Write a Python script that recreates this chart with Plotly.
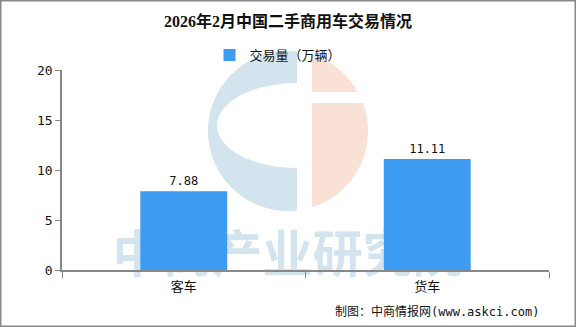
import numpy as np
import plotly.graph_objects as go

categories = ["客车", "货车"]
values = [7.88, 11.11]
value_labels = ["7.88", "11.11"]
series_name = "交易量（万辆）"
title_text = "2026年2月中国二手商用车交易情况"
source_text = "制图：中商情报网(www.askci.com)"
watermark_text = "中商产业研究院"

W, H = 576, 327
L, R, T, B = 62, 27, 70, 57
PW, PH = W - L - R, H - T - B


def px(x):
    return (x - L) / PW


def py(y):
    return (H - B - y) / PH


def path(points):
    s = "M " + " L ".join(f"{px(x):.5f},{py(y):.5f}" for x, y in points) + " Z"
    return s


# logo geometry (pixel space)
cx, cy, r = 288, 131, 80
xg1, xg2 = 297, 312
t0 = -np.degrees(np.arccos((xg1 - cx) / r))
th = np.radians(np.linspace(t0, -360 - t0, 80))
outer = [(cx + r * np.cos(a), cy + r * np.sin(a)) for a in th]
ecx, ecy, erx, ery = 297, 125.5, 80, 42.5
th2 = np.radians(np.linspace(90, 270, 60))
inner = [(ecx + erx * np.cos(a), ecy + ery * np.sin(a)) for a in th2]
blue_pts = outer + inner

ya, yb = 92, 103
ta = np.degrees(np.arctan2(ya - cy, np.sqrt(r**2 - (ya - cy) ** 2)))
ttop = np.degrees(np.arctan2(-np.sqrt(r**2 - (xg2 - cx) ** 2), xg2 - cx))
th3 = np.radians(np.linspace(ttop, ta, 40))
up = [(cx + r * np.cos(a), cy + r * np.sin(a)) for a in th3] + [(xg2, ya)]
tb = np.degrees(np.arctan2(yb - cy, np.sqrt(r**2 - (yb - cy) ** 2)))
tbot = np.degrees(np.arctan2(np.sqrt(r**2 - (xg2 - cx) ** 2), xg2 - cx))
th4 = np.radians(np.linspace(tb, tbot, 50))
low = [(xg2, yb)] + [(cx + r * np.cos(a), cy + r * np.sin(a)) for a in th4]

wm_blue = "rgb(211,228,238)"
wm_salmon = "rgb(250,225,214)"

fig = go.Figure()
fig.add_trace(go.Bar(
    x=categories, y=values, name=series_name,
    marker=dict(color="#3d9cf1", line=dict(width=0)),
    text=value_labels, textposition="outside", cliponaxis=False,
    textfont=dict(family="DejaVu Sans Mono, Noto Sans CJK SC", size=12, color="#111"),
    width=0.357,
))

shapes = [
    dict(type="path", path=path(blue_pts), xref="paper", yref="paper",
         fillcolor=wm_blue, line=dict(width=0), layer="below"),
    dict(type="path", path=path(up), xref="paper", yref="paper",
         fillcolor=wm_salmon, line=dict(width=0), layer="below"),
    dict(type="path", path=path(low), xref="paper", yref="paper",
         fillcolor=wm_salmon, line=dict(width=0), layer="below"),
    dict(type="rect", xref="paper", yref="paper",
         x0=px(114), x1=px(461), y0=py(284), y1=py(231),
         line=dict(width=0), fillcolor="rgba(0,0,0,0)", layer="below",
         label=dict(text=watermark_text, textposition="middle center",
                    font=dict(family="Noto Sans CJK SC", size=50, color=wm_blue, weight="bold"))),
    dict(type="rect", xref="paper", yref="paper",
         x0=px(0.75), x1=px(575.25), y0=py(326.25), y1=py(0.75),
         line=dict(width=1.5, color="#8a8a8a"), fillcolor="rgba(0,0,0,0)", layer="above"),
]

fig.update_layout(
    width=W, height=H,
    margin=dict(l=L, r=R, t=T, b=B),
    paper_bgcolor="white", plot_bgcolor="rgba(0,0,0,0)",
    title=dict(text="<b>" + title_text + "</b>", x=0.5, xanchor="center", y=1 - 21 / H, yanchor="middle",
               font=dict(family="Liberation Serif, Noto Sans CJK SC", size=16, color="#111")),
    showlegend=True,
    legend=dict(orientation="h", x=px(278), xanchor="center", y=py(55), yanchor="middle",
                font=dict(family="Noto Sans CJK SC", size=13, color="#111"),
                itemwidth=30, bgcolor="rgba(0,0,0,0)"),
    bargap=0.643,
    shapes=shapes,
    annotations=[dict(text=source_text, xref="paper", yref="paper", x=px(541), y=py(311),
                      xanchor="right", yanchor="middle", showarrow=False,
                      font=dict(family="DejaVu Sans Mono, Noto Sans CJK SC", size=12, color="#111"))],
)
fig.update_xaxes(showline=True, linecolor="#888", linewidth=1.5, ticks="outside", tickson="boundaries",
                 ticklen=6, tickcolor="#888", showgrid=False, ticklabelstandoff=4,
                 tickfont=dict(family="Noto Sans CJK SC", size=13, color="#111"))
fig.update_yaxes(range=[0, 20], dtick=5, showline=True, linecolor="#888", linewidth=1.5, ticks="outside",
                 ticklen=5, tickcolor="#888", showgrid=False, zeroline=False,
                 tickfont=dict(family="DejaVu Sans Mono", size=13, color="#111"))

fig.write_html("out.html")
